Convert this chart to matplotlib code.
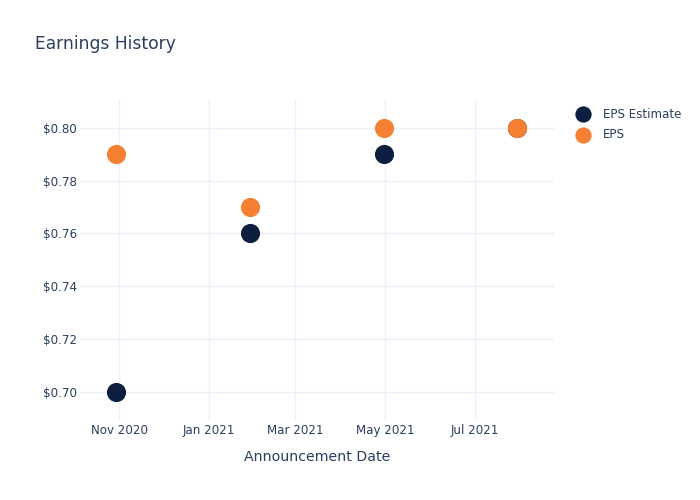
import matplotlib.pyplot as plt
import numpy as np
from matplotlib.ticker import FuncFormatter

# earnings data
dates = np.array(["2020-10-30", "2021-01-29", "2021-04-30", "2021-07-30"], dtype="datetime64[D]")
eps_estimate = [0.70, 0.76, 0.79, 0.80]
eps_actual = [0.79, 0.77, 0.80, 0.80]

tick_dates = np.array(["2020-11-01", "2021-01-01", "2021-03-01", "2021-05-01", "2021-07-01"],
                      dtype="datetime64[D]")
tick_labels = ["Nov 2020", "Jan 2021", "Mar 2021", "May 2021", "Jul 2021"]
y_ticks = [0.70, 0.72, 0.74, 0.76, 0.78, 0.80]

text_col = "#2a3f5f"
grid_col = "#ebf0f8"

fig = plt.figure(figsize=(7, 5), dpi=100)
ax = fig.add_axes([80 / 700, 1 - 420 / 500, 474 / 700, 320 / 500])

ax.scatter(dates, eps_estimate, s=190, color="#0c1f40", zorder=3, label="EPS Estimate",
           linewidths=0)
ax.scatter(dates, eps_actual, s=190, color="#f58032", zorder=4, label="EPS",
           linewidths=0)

ax.set_xlim(np.datetime64("2020-10-05T08"), np.datetime64("2021-08-24"))
ax.set_ylim(0.6893, 0.8106)

ax.set_xticks(tick_dates)
ax.set_xticklabels(tick_labels)
ax.set_yticks(y_ticks)
ax.yaxis.set_major_formatter(FuncFormatter(lambda v, p: "${:.2f}".format(v)))

ax.grid(True, color=grid_col, linewidth=1)
ax.set_axisbelow(True)
for sp in ax.spines.values():
    sp.set_visible(False)
ax.tick_params(length=0, labelsize=8.6, colors=text_col)
ax.tick_params(axis="y", pad=2)
ax.tick_params(axis="x", pad=3)

ax.set_xlabel("Announcement Date", fontsize=10.2, color=text_col, labelpad=9)

fig.text(35 / 700, 1 - 44 / 500, "Earnings History", fontsize=12.3, color=text_col,
         va="center", ha="left")

leg = ax.legend(loc="upper left", bbox_to_anchor=(1.013, 1.01), frameon=False,
                fontsize=8.6, labelcolor=text_col, handletextpad=0.7,
                labelspacing=0.62, markerscale=0.85)

fig.savefig("out.png", dpi=100)
